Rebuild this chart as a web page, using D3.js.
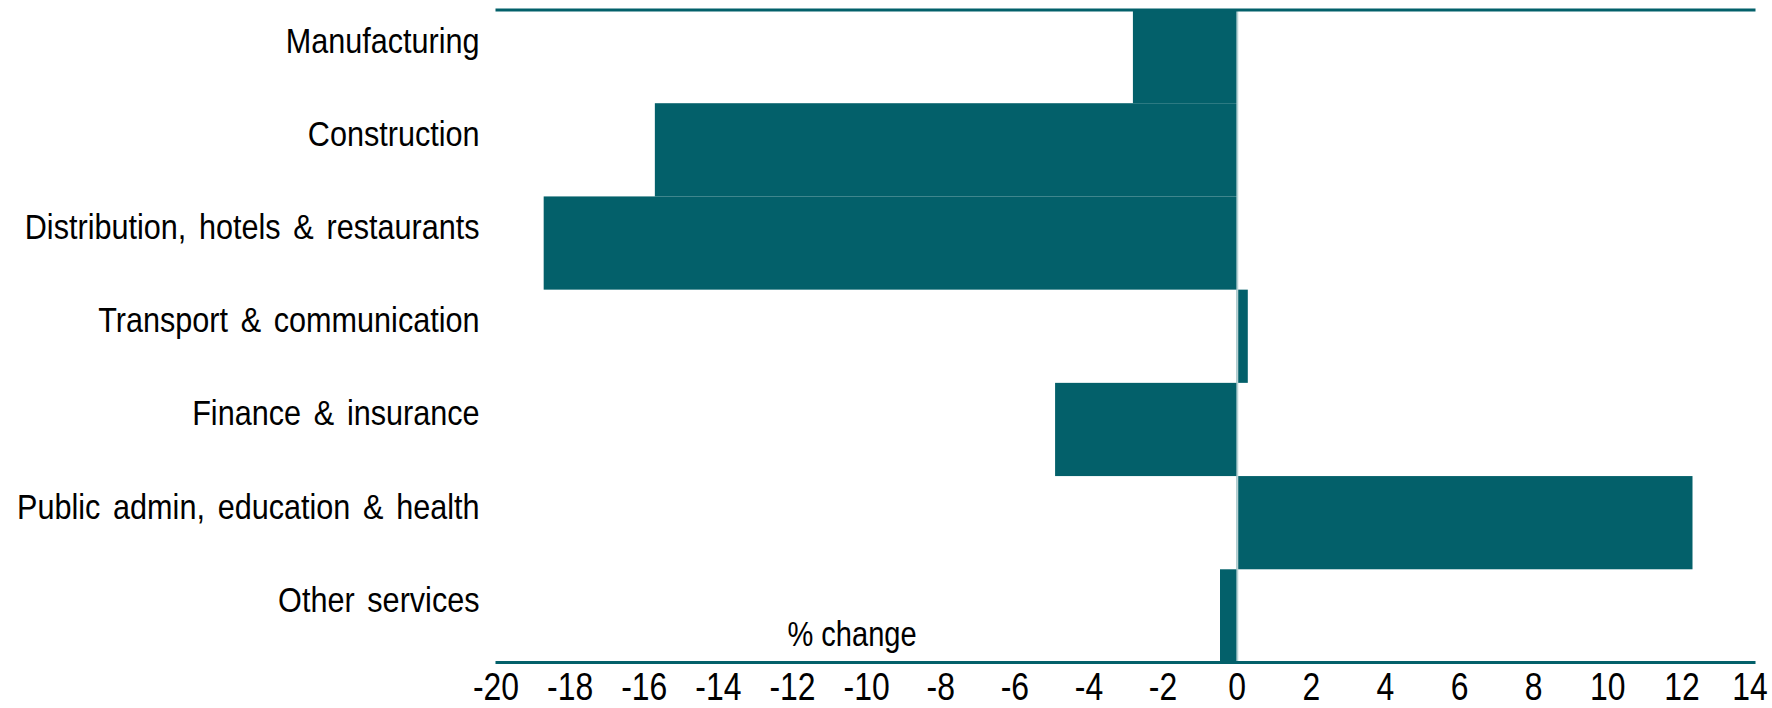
<!DOCTYPE html>
<html>
<head>
<meta charset="utf-8">
<script src="https://cdn.jsdelivr.net/npm/d3@7"></script>
<style>
  html, body { margin: 0; padding: 0; background: #ffffff; }
  svg { display: block; }
  text { font-family: "Liberation Sans", Arial, sans-serif; fill: #000; }
</style>
</head>
<body>
<svg id="chart" width="1772" height="708"></svg>
<script>
// Sectors, top to bottom
const categories = [
  "Manufacturing",
  "Construction",
  "Distribution, hotels & restaurants",
  "Transport & communication",
  "Finance & insurance",
  "Public admin, education & health",
  "Other services"
];
// Percentage change per sector
const values = [-2.8, -15.7, -18.7, 0.3, -4.9, 12.3, -0.45];
// Axis ticks
const tickValues = [-20, -18, -16, -14, -12, -10, -8, -6, -4, -2, 0, 2, 4, 6, 8, 10, 12, 14];
const axisTitle = "% change";

const W = 1772, H = 708;
const margin = { left: 495.5, right: 16.5, top: 10, bottom: 45.5 };
const teal = "#03606a";

const svg = d3.select("#chart");

const x = d3.scaleLinear()
  .domain([-20, 14])
  .range([margin.left, W - margin.right]);

const y = d3.scaleBand()
  .domain(categories)
  .range([margin.top, H - margin.bottom])
  .padding(0);

const data = categories.map((c, i) => ({ name: c, value: values[i] }));

// bars
svg.append("g")
  .selectAll("rect")
  .data(data)
  .join("rect")
  .attr("x", d => x(Math.min(0, d.value)))
  .attr("width", d => Math.abs(x(d.value) - x(0)))
  .attr("y", d => y(d.name))
  .attr("height", y.bandwidth())
  .attr("fill", teal);

// zero reference line
svg.append("line")
  .attr("x1", x(0) + 0.8).attr("x2", x(0) + 0.8)
  .attr("y1", margin.top).attr("y2", H - margin.bottom)
  .attr("stroke", "#b9d2d4")
  .attr("stroke-width", 1.6);

// top and bottom frame lines
[margin.top, H - margin.bottom].forEach(yy => {
  svg.append("line")
    .attr("x1", x(-20)).attr("x2", x(14))
    .attr("y1", yy).attr("y2", yy)
    .attr("stroke", teal)
    .attr("stroke-width", 3);
});

// bottom axis tick labels (plain hyphen for negatives, condensed digits)
const axis = d3.axisBottom(x)
  .tickValues(tickValues)
  .tickFormat(d => String(d))
  .tickSize(0)
  .tickPadding(0);

const gAxis = svg.append("g")
  .attr("transform", `translate(0,${H - margin.bottom})`)
  .call(axis);
gAxis.select(".domain").remove();
const lastTick = tickValues[tickValues.length - 1];
gAxis.selectAll(".tick text")
  .attr("y", 0)
  .attr("dy", 0)
  // the right-most label is nudged in so it stays inside the page
  .attr("transform", d => `translate(${d === lastTick ? -6 : 0},37.5) scale(0.84,1)`)
  .style("font-family", "'Liberation Sans', Arial, sans-serif")
  .style("font-size", "38px")
  .attr("fill", "#000");

// category labels, slightly condensed
svg.append("g")
  .selectAll("text")
  .data(categories)
  .join("text")
  .attr("transform", d => `translate(479.5,${y(d) + y.bandwidth() / 2 - 4}) scale(0.85,1)`)
  .attr("text-anchor", "end")
  .style("font-size", "36px")
  .style("word-spacing", "5px")
  .text(d => d);

// axis title inside the plot
svg.append("text")
  .attr("transform", `translate(852,645.5) scale(0.83,1)`)
  .attr("text-anchor", "middle")
  .style("font-size", "35px")
  .text(axisTitle);
</script>
</body>
</html>
